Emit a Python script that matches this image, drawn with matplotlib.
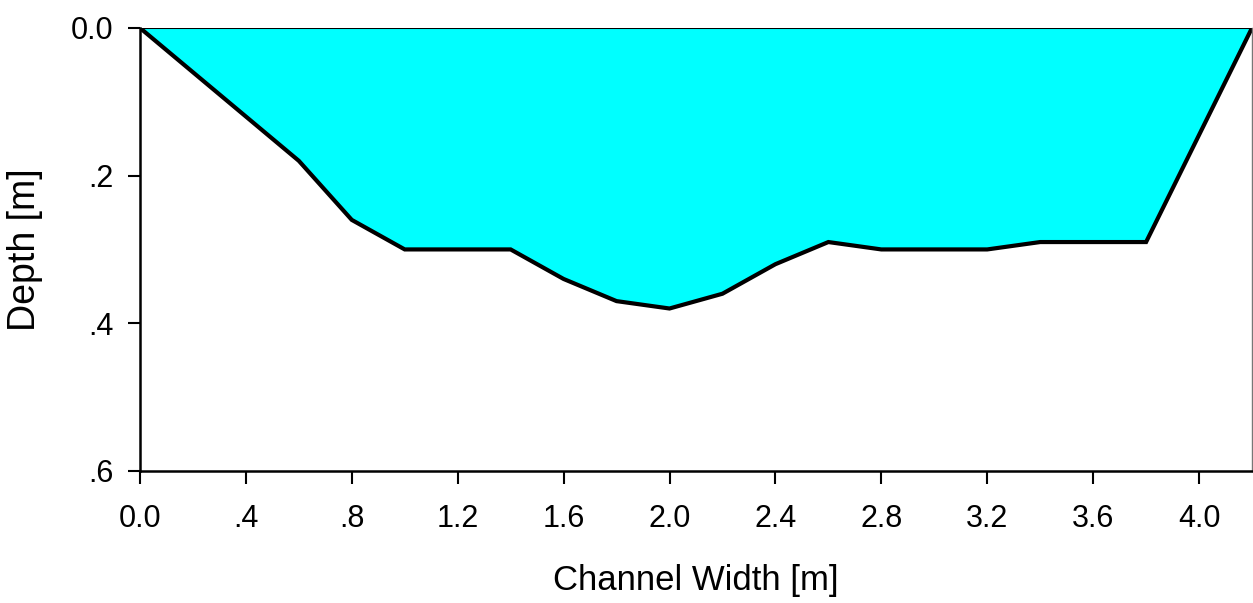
import numpy as np
import matplotlib.pyplot as plt
from matplotlib.ticker import FuncFormatter

plt.rcParams['font.family'] = ['Liberation Sans', 'DejaVu Sans']

# channel cross-section: width [m] vs depth [m]
width = [0.0, 0.6, 0.8, 1.0, 1.4, 1.6, 1.8, 2.0, 2.2, 2.4, 2.6, 2.8, 3.2, 3.4, 3.8, 4.2]
depth = [0.0, 0.18, 0.26, 0.30, 0.30, 0.34, 0.37, 0.38, 0.36, 0.32, 0.29, 0.30, 0.30, 0.29, 0.29, 0.0]

xticks = [0.0, 0.4, 0.8, 1.2, 1.6, 2.0, 2.4, 2.8, 3.2, 3.6, 4.0]
yticks = [0.0, 0.2, 0.4, 0.6]


def fmt(v, pos=None):
    s = '%.1f' % v
    if s.startswith('0.') and s != '0.0':
        s = s[1:]
    return s


fig = plt.figure(figsize=(12.53, 6.03), dpi=100)
ax = fig.add_axes([0.1117, 0.219, 0.8875, 0.7347])

ax.fill_between(width, 0, depth, color='#00FFFF', lw=0)
ax.plot(width, depth, color='black', lw=3, solid_joinstyle='miter')
ax.axhline(0, color='black', lw=1.5)

ax.set_xlim(0, 4.2)
ax.set_ylim(0.6, 0.0)
ax.set_xticks(xticks)
ax.set_yticks(yticks)
ax.xaxis.set_major_formatter(FuncFormatter(fmt))
ax.yaxis.set_major_formatter(FuncFormatter(fmt))
ax.tick_params(direction='out', length=9, width=1.5, labelsize=22)
ax.tick_params(axis='x', pad=15)
ax.tick_params(axis='y', pad=10)

for s in ['left', 'bottom']:
    ax.spines[s].set_linewidth(1.8)
ax.spines['top'].set_visible(False)
ax.spines['right'].set_color('#777777')
ax.spines['right'].set_linewidth(1)

ax.set_xlabel('Channel Width [m]', fontsize=25)
ax.set_ylabel('Depth [m]', fontsize=27)
ax.xaxis.set_label_coords(0.5, -0.21)
ax.yaxis.set_label_coords(-0.087, 0.5)

fig.savefig('out.png', dpi=100)
